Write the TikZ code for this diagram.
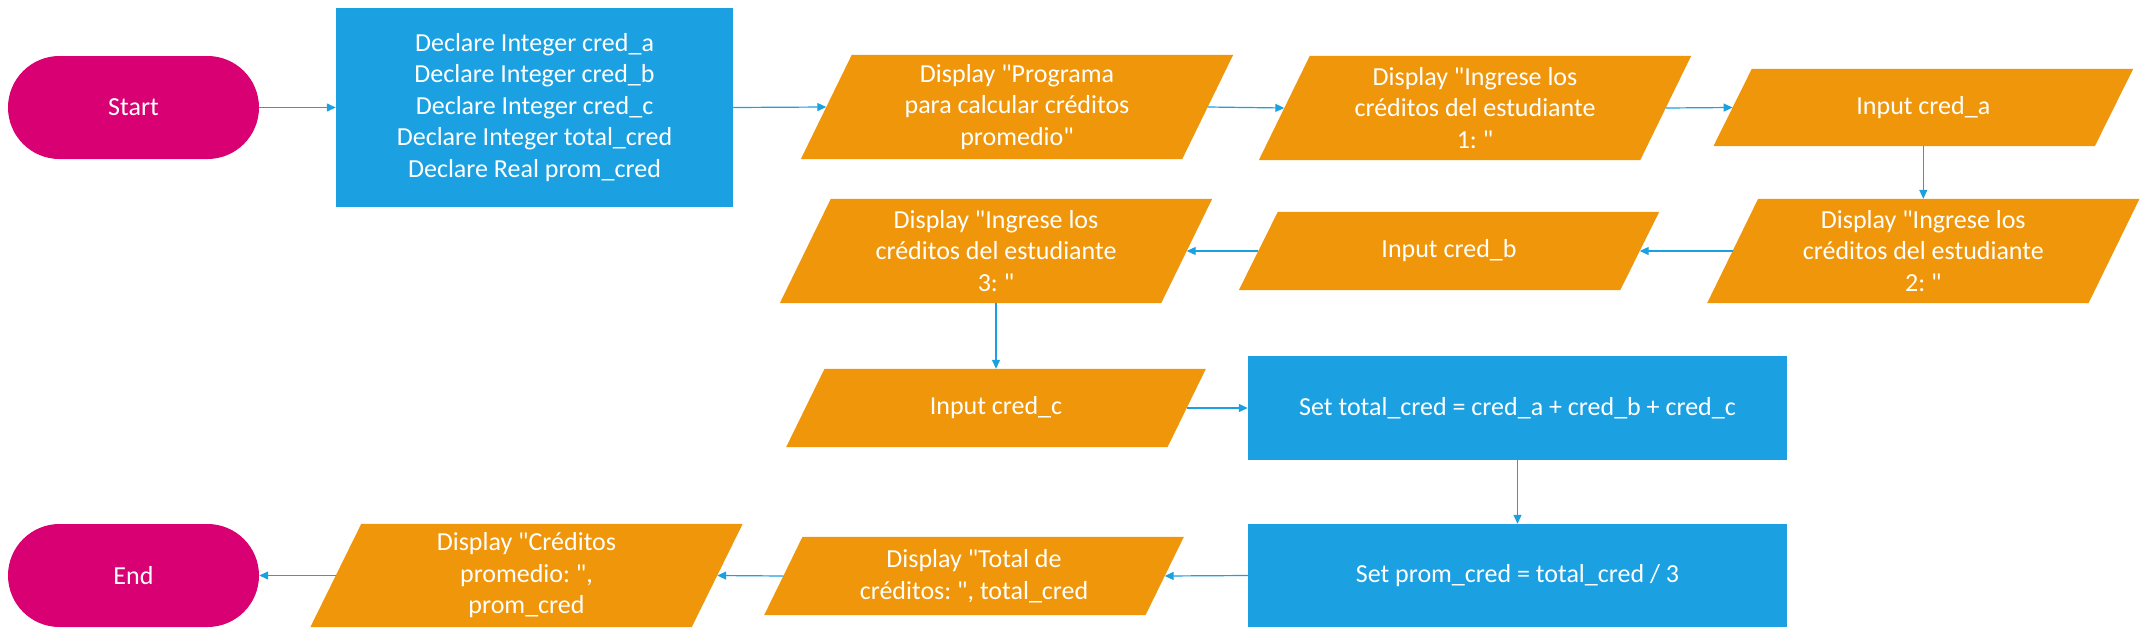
\documentclass[tikz,border=0pt]{standalone}
\usepackage{fontspec}
\setmainfont{Carlito}[Ligatures=TeXOff]
\usetikzlibrary{arrows.meta,shapes.misc}
\pgfdeclarelayer{background}
\pgfsetlayers{background,main}
\definecolor{mag}{HTML}{D80073}
\definecolor{blu}{HTML}{1BA1E2}
\definecolor{orng}{HTML}{F0960A}
\definecolor{lnk}{HTML}{1BA1E2}
\frenchspacing
\newcommand{\iofill}[2]{\fill[orng] ([xshift=#2]#1.north west) -- ([xshift=#2]#1.north east) -- ([xshift=-#2]#1.south east) -- ([xshift=-#2]#1.south west) -- cycle;}
\tikzset{
  base/.style={inner sep=0pt, text=white, align=center, font=\fontsize{26}{31.5}\selectfont\frenchspacing},
  term/.style={base, rounded rectangle, fill=mag, minimum width=251pt, minimum height=103pt},
  proc/.style={base, rectangle, fill=blu},
  io/.style={base, rectangle, minimum width=381pt},
  link/.style={draw=lnk, line width=1.2pt, -{Triangle[length=9pt,width=8pt]}}
}
\begin{document}
\begin{tikzpicture}[x=1pt,y=-1pt]
\useasboundingbox (0,0) rectangle (2148,643);
% row 1
\node[term] (start) at (133.5,107.5) {Start};
\node[proc, minimum width=397pt, minimum height=199pt] (b1) at (534.5,107.5) {Declare Integer cred\_a\\Declare Integer cred\_b\\Declare Integer cred\_c\\Declare Integer total\_cred\\Declare Real prom\_cred};
\node[io, minimum height=104pt] (p1) at (1017,107) {Display "Programa\\para calcular créditos\\promedio"};
\node[io, minimum height=104pt] (p2) at (1475,108) {Display "Ingrese los\\créditos del estudiante\\1: "};
\node[io, minimum height=77pt] (p3) at (1923.3,107.5) {Input cred\_a};
% row 2
\node[io, minimum height=104pt] (p4) at (1923.3,251) {Display "Ingrese los\\créditos del estudiante\\2: "};
\node[io, minimum height=78pt] (p5) at (1449,251) {Input cred\_b};
\node[io, minimum height=104pt] (p6) at (996,251) {Display "Ingrese los\\créditos del estudiante\\3: "};
% row 3
\node[io, minimum height=78pt] (p7) at (996,408) {Input cred\_c};
\node[proc, minimum width=539pt, minimum height=104pt] (b2) at (1517.5,408) {Set total\_cred = cred\_a + cred\_b + cred\_c};
% row 4
\node[proc, minimum width=539pt, minimum height=103pt] (b3) at (1517.5,575.5) {Set prom\_cred = total\_cred / 3};
\node[io, minimum height=78pt] (p8) at (974,576) {Display "Total de\\créditos: ", total\_cred};
\node[io, minimum height=103pt] (p9) at (526.5,575.5) {Display "Créditos\\promedio: ",\\prom\_cred};
\node[term] (end) at (133.5,575.5) {End};
\begin{pgfonlayer}{background}
\fill[white] (0,0) rectangle (2148,643);
\iofill{p1}{25.5}
\iofill{p2}{25.5}
\iofill{p3}{19.2}
\iofill{p4}{25.5}
\iofill{p5}{19.5}
\iofill{p6}{25.5}
\iofill{p7}{19.2}
\iofill{p8}{19.2}
\iofill{p9}{25.5}
\end{pgfonlayer}
% connectors
\draw[link] (start.east) -- (b1.west);
\draw[link] (b1.east) -- (p1.west);
\draw[link] (p1.east) -- (p2.west);
\draw[link] (p2.east) -- (p3.west);
\draw[link] (p3.south) -- (p4.north);
\draw[link] (p4.west) -- (p5.east);
\draw[link] (p5.west) -- (p6.east);
\draw[link] (p6.south) -- (p7.north);
\draw[link] (p7.east) -- (b2.west);
\draw[link] (b2.south) -- (b3.north);
\draw[link] (b3.west) -- (p8.east);
\draw[link] (p8.west) -- (p9.east);
\draw[link] (p9.west) -- (end.east);
\end{tikzpicture}
\end{document}
